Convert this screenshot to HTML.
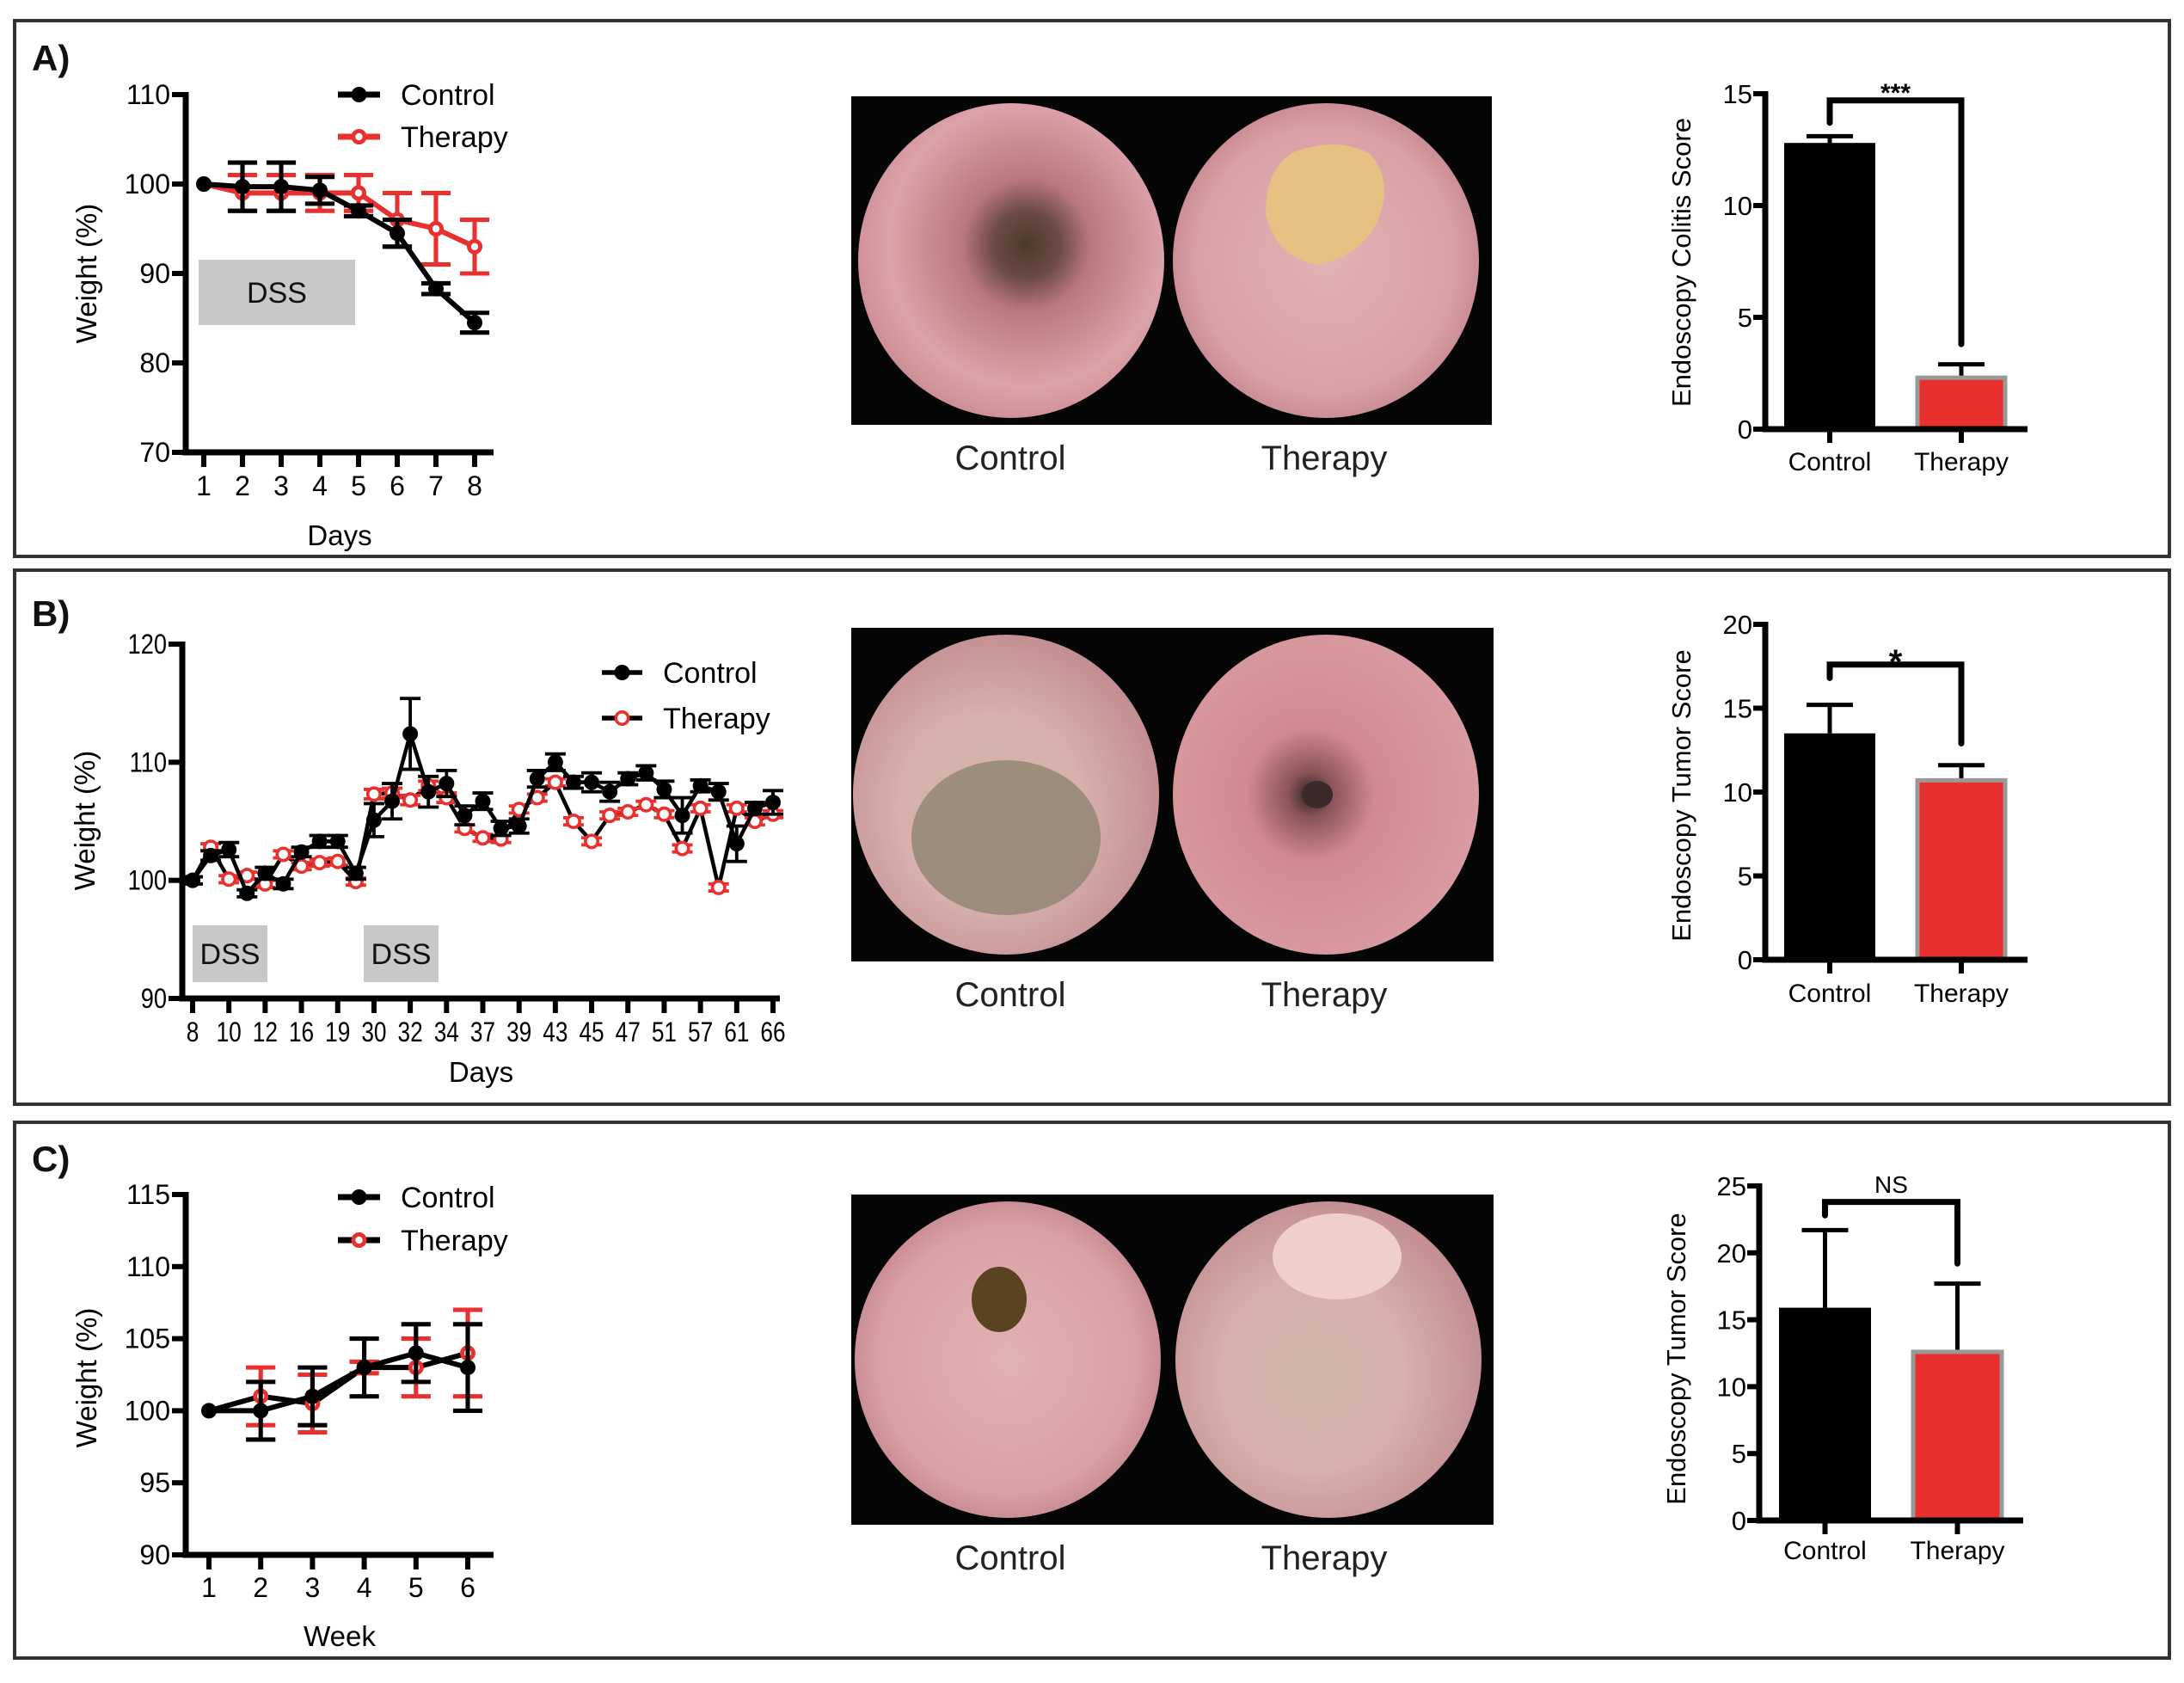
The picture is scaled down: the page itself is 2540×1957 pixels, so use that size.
<!DOCTYPE html>
<html><head><meta charset="utf-8"><title>Weight and endoscopy scores</title>
<style>
html,body{margin:0;padding:0;background:#fff;}
svg{display:block;font-family:"Liberation Sans",Arial,sans-serif;}
</style></head>
<body>
<svg id="fig" width="2540" height="1957" viewBox="0 0 2540 1957" xmlns="http://www.w3.org/2000/svg">
<defs>
<radialGradient id="pinkA" cx="0.55" cy="0.45" r="0.6">
<stop offset="0" stop-color="#4a3a2a"/><stop offset="0.18" stop-color="#6d4a45"/><stop offset="0.35" stop-color="#b9787c"/><stop offset="0.75" stop-color="#dca3a8"/><stop offset="1" stop-color="#c98a90"/></radialGradient>
<radialGradient id="pinkB" cx="0.5" cy="0.5" r="0.6">
<stop offset="0" stop-color="#e2b2b5"/><stop offset="0.7" stop-color="#d9a0a5"/><stop offset="1" stop-color="#b87a80"/></radialGradient>
<radialGradient id="pinkC" cx="0.45" cy="0.55" r="0.6">
<stop offset="0" stop-color="#cfb5a8"/><stop offset="0.5" stop-color="#d8b0ad"/><stop offset="1" stop-color="#c08a8e"/></radialGradient>
<radialGradient id="pinkD" cx="0.45" cy="0.5" r="0.6">
<stop offset="0" stop-color="#2d2020"/><stop offset="0.12" stop-color="#8a5458"/><stop offset="0.35" stop-color="#d28a90"/><stop offset="1" stop-color="#d99ea3"/></radialGradient>
</defs>
<g id="frames"></g>
<g id="panelA"></g><g id="panelB"></g><g id="panelC"></g>
</svg>
<script>
// ---------- DATA ----------
const daysA = ['1','2','3','4','5','6','7','8'];
const ctrlA = [100,99.7,99.7,99.3,97,94.5,88.3,84.5];
const ctrlAerr = [0,2.7,2.7,1.5,0.6,1.5,0.6,1.1];
const therA = [100,99,99,99,99,96,95,93];
const therAerr = [0,2,2,2,2,3,4,3];
const yTicksA = [70,80,90,100,110];

const dayLabelsB = ['8','10','12','16','19','30','32','34','37','39','43','45','47','51','57','61','66'];
const ctrlB = [100,102.1,102.6,98.9,100.6,99.7,102.4,103.3,103.3,100.6,105.1,106.7,112.4,107.5,108.2,105.5,106.7,104.4,104.6,108.6,110,108.3,108.3,107.5,108.6,109.1,107.7,105.5,108,107.5,103.1,106.1,106.6];
const ctrlBerr = [0.3,0.4,0.6,0.3,0.5,0.4,0.4,0.5,0.5,0.5,1.4,1.5,3,1.3,1.1,0.8,0.7,0.6,0.6,0.7,0.7,0.5,0.8,0.8,0.5,0.6,0.7,1.5,0.5,0.7,1.5,0.5,1];
const therB = [100,102.8,100.1,100.4,99.7,102.2,101.2,101.5,101.6,99.9,107.3,107.4,106.8,108,107,104.4,103.6,103.5,106,107,108.3,105,103.3,105.5,105.8,106.4,105.6,102.7,106.1,99.4,106.1,105,105.6];
const therBerr = [0.3,0.3,0.3,0.3,0.3,0.3,0.3,0.3,0.3,0.3,0.4,0.4,0.4,0.4,0.4,0.3,0.3,0.3,0.3,0.3,0.3,0.3,0.3,0.3,0.3,0.3,0.3,0.3,0.3,0.3,0.3,0.3,0.3];
const yTicksB = [90,100,110,120];

const weeksC = ['1','2','3','4','5','6'];
const ctrlC = [100,100,101,103,104,103];
const ctrlCerr = [0,2,2,2,2,3];
const therC = [100,101,100.5,103,103,104];
const therCerr = [0,2,2,0.4,2,3];
const yTicksC = [90,95,100,105,110,115];

const barGroups = ['Control','Therapy'];
const barA = [12.8,2.3];
const barAerr = [0.3,0.6];
const barB = [13.5,10.7];
const barBerr = [1.7,0.9];
const barC = [15.9,12.6];
const barCerr = [5.8,5.1];
const barTicksA = [0,5,10,15];
const barTicksB = [0,5,10,15,20];
const barTicksC = [0,5,10,15,20,25];

// ---------- HELPERS ----------
const NS='http://www.w3.org/2000/svg';
function mk(parent, tag, attrs, text){
  const e=document.createElementNS(NS,tag);
  for(const k in attrs) e.setAttribute(k,attrs[k]);
  if(text!==undefined) e.textContent=text;
  parent.appendChild(e); return e;
}
const RED='#e8302f';

const frames=document.getElementById('frames');
[[24,647],[663,1284],[1305,1928]].forEach((r,i)=>{
  const f=mk(frames,'rect',{x:17,y:r[0],width:2506,height:r[1]-r[0],fill:'none',stroke:'#333',"stroke-width":4});
  
  
});

function lineChart(g, cfg){
  const {x0,x1,yTop,yBot,vmin,vmax,n,px0,px1,ticks,xLabels,xLabelIdx,ctrl,ctrlErr,ther,therErr,r,lw,fs,legendY,legendX,dss,xTitle,xTitleY,yTitleX,yTitleY,labelY,cond}=cfg;
  const ys=v=>yBot-(v-vmin)/(vmax-vmin)*(yBot-yTop);
  const xs=i=>px0+(px1-px0)*i/(n-1);
  dss.forEach((d,i)=>{
    const b=mk(g,'rect',{x:d[0],y:d[1],width:d[2],height:d[3],fill:'#c8c8c8'});
    
    
    const t=mk(g,'text',{x:d[0]+d[2]/2,y:d[1]+d[3]/2+12,'text-anchor':'middle','font-size':34,fill:'#111'},'DSS');
    
    
  });
  const ax=mk(g,'path',{d:`M${x0},${yTop-3}V${yBot}H${x1}`,fill:'none',stroke:'#000','stroke-width':7});
  
  
  ticks.forEach(v=>{
    mk(g,'line',{x1:x0-16,x2:x0,y1:ys(v),y2:ys(v),stroke:'#000','stroke-width':6});
    const t=mk(g,'text',{x:x0-18,y:ys(v)+11,'text-anchor':'end','font-size':fs,fill:'#000',transform:cond?`translate(${x0-18},0) scale(0.85,1) translate(${-(x0-18)},0)`:''},String(v));
    
    
  });
  xLabels.forEach((l,k)=>{
    const xx=xs(xLabelIdx(k));
    mk(g,'line',{x1:xx,x2:xx,y1:yBot,y2:yBot+17,stroke:'#000','stroke-width':6});
    const t=mk(g,'text',{x:xx,y:labelY,'text-anchor':'middle','font-size':fs,fill:'#000',transform:cond?`translate(${xx},0) scale(0.82,1) translate(${-xx},0)`:''},l);
    
    
  });
  const xt=mk(g,'text',{x:(x0+x1)/2,y:xTitleY,'text-anchor':'middle','font-size':33,fill:'#000'},xTitle);
  
  
  const yt=mk(g,'text',{x:yTitleX,y:yTitleY,'text-anchor':'middle','font-size':33,fill:'#000',transform:`rotate(-90 ${yTitleX} ${yTitleY})`},'Weight (%)');
  
  
  function series(vals,errs,color,filled,name,lineColor){
    const pts=vals.map((v,i)=>`${xs(i)},${ys(v)}`).join(' ');
    const pl=mk(g,'polyline',{points:pts,fill:'none',stroke:lineColor,'stroke-width':lw,'stroke-linejoin':'round'});
    
    
    vals.forEach((v,i)=>{
      if(errs[i]>0){
        const cx=xs(i),a=ys(v+errs[i]),b=ys(v-errs[i]),c=cfg.cap||r*1.9;
        const eb=mk(g,'path',{d:`M${cx},${a}V${b}M${cx-c},${a}H${cx+c}M${cx-c},${b}H${cx+c}`,stroke:color,'stroke-width':lw*0.85,fill:'none'});
        
        
      }
      const m=mk(g,'circle',{cx:xs(i),cy:ys(v),r:filled?r:r-lw*0.4,fill:filled?color:'#fff',stroke:color,'stroke-width':filled?0:lw*0.8});
      
      
    });
  }
  series(ther,therErr,RED,false,'therapy',cfg.therLine);
  series(ctrl,ctrlErr,'#000',true,'control','#000');
  [['Control','#000',true,'#000',legendY[0]],['Therapy',RED,false,cfg.therLine,legendY[1]]].forEach(([lab,col,fill,lc,ly])=>{
    const lg=mk(g,'g',{});
    
    
    mk(lg,'line',{x1:legendX[0],x2:legendX[1],y1:ly,y2:ly,stroke:lc,'stroke-width':lw+1});
    mk(lg,'circle',{cx:(legendX[0]+legendX[1])/2,cy:ly,r:fill?r:r-lw*0.4,fill:fill?col:'#fff',stroke:col,'stroke-width':fill?0:lw*0.8});
    mk(lg,'text',{x:legendX[2],y:ly+12,'font-size':34,fill:'#000'},lab);
  });
}

function barChart(g,cfg){
  const {ax,yTop,yBot,xEnd,vmax,ticks,vals,errs,bars,bracket,sig,sigY,sigFs,yTitle,yTitleX,yTitleY,labY}=cfg;
  const ys=v=>yBot-v/vmax*(yBot-yTop);
  vals.forEach((v,i)=>{
    const [bx,bw]=bars[i];
    const cx=bx+bw/2;
    const eb=mk(g,'path',{d:`M${cx},${ys(v)}V${ys(v+errs[i])}M${cx-27},${ys(v+errs[i])}H${cx+27}`,stroke:'#000','stroke-width':5,fill:'none'});
    
    
    const b=mk(g,'rect',{x:bx,y:ys(v),width:bw,height:yBot-ys(v),fill:i===0?'#000':RED,stroke:i===0?'#000':'#999','stroke-width':i===0?0:5});
    
    
    mk(g,'line',{x1:cx,x2:cx,y1:yBot,y2:yBot+16,stroke:'#000','stroke-width':6});
    const t=mk(g,'text',{x:cx,y:labY,'text-anchor':'middle','font-size':30,fill:'#000'},barGroups[i]);
    
    
  });
  const a=mk(g,'path',{d:`M${ax},${yTop-3}V${yBot}H${xEnd}`,fill:'none',stroke:'#000','stroke-width':7});
  
  
  ticks.forEach(v=>{
    mk(g,'line',{x1:ax-14,x2:ax,y1:ys(v),y2:ys(v),stroke:'#000','stroke-width':6});
    const t=mk(g,'text',{x:ax-15,y:ys(v)+11,'text-anchor':'end','font-size':31,fill:'#000'},String(v));
    
    
  });
  const lx=bars[0][0]+bars[0][1]/2, rx=bars[1][0]+bars[1][1]/2;
  const br=mk(g,'path',{d:`M${lx},${ys(bracket[1])}V${ys(bracket[0])}H${rx}V${ys(bracket[2])}`,fill:'none',stroke:'#000','stroke-width':7,'stroke-linecap':'round'});
  
  
  const st=mk(g,'text',{x:(lx+rx)/2,y:sigY,'text-anchor':'middle','font-size':sigFs,'font-weight':sig==='NS'?'normal':'bold',fill:'#000'},sig);
  
  
  const yt=mk(g,'text',{x:yTitleX,y:yTitleY,'text-anchor':'middle','font-size':31,fill:'#000',transform:`rotate(-90 ${yTitleX} ${yTitleY})`},yTitle);
  
  
}

function photo(g,cfg){
  const {x,y,w,h,c1,c2,grad1,grad2,cap,kind}=cfg;
  const p=mk(g,'g',{});
  
  
  mk(p,'rect',{x,y,width:w,height:h,fill:'#050505'});
  const cy=y+h/2;
  mk(p,'ellipse',{cx:c1,cy,rx:178,ry:h/2-8,fill:`url(#${grad1})`});
  mk(p,'ellipse',{cx:c2,cy,rx:178,ry:h/2-8,fill:`url(#${grad2})`});
  if(kind==='A'){
    mk(p,'path',{d:`M${c2-40},${cy-125} q50,-20 90,0 q30,30 10,80 q-20,40 -70,50 q-50,-10 -60,-60 q0,-50 30,-70z`,fill:'#e7c083'});
  }
  if(kind==='B'){
    mk(p,'ellipse',{cx:c1,cy:cy+50,rx:110,ry:90,fill:'#8f8570',opacity:0.8});
    mk(p,'ellipse',{cx:c2-10,cy:cy,rx:18,ry:16,fill:'#3a2a2a'});
  }
  if(kind==='C'){
    mk(p,'ellipse',{cx:c1-10,cy:cy-70,rx:32,ry:38,fill:'#5a4320'});
    mk(p,'ellipse',{cx:c2+10,cy:cy-120,rx:75,ry:50,fill:'#f0cfc8'});
  }
  cap.forEach(([t,xx])=>{
    const tt=mk(g,'text',{x:xx,y:y+h+52,'text-anchor':'middle','font-size':40,fill:'#222'},t);
    
    
  });
}

function panelLabel(g,t,x,y){
  const e=mk(g,'text',{x,y,'font-size':42,'font-weight':'bold',fill:'#111'},t);
  
  
}

const gA=document.getElementById('panelA');
panelLabel(gA,'A)',37,82);
lineChart(gA,{x0:216,x1:574,yTop:110,yBot:526,vmin:70,vmax:110,n:8,px0:237,px1:552,ticks:yTicksA,
  xLabels:daysA,xLabelIdx:k=>k,ctrl:ctrlA,ctrlErr:ctrlAerr,ther:therA,therErr:therAerr,r:9,lw:6,fs:32,
  legendY:[110,159],legendX:[393,442,466],dss:[[231,302,182,76]],xTitle:'Days',xTitleY:634,yTitleX:112,yTitleY:318,labelY:576,therLine:RED,cond:false});
photo(gA,{x:990,y:112,w:745,h:382,c1:1176,c2:1542,grad1:'pinkA',grad2:'pinkB',cap:[['Control',1175],['Therapy',1540]],kind:'A'});
barChart(gA,{ax:2053,yTop:109,yBot:499,xEnd:2358,vmax:15,ticks:barTicksA,vals:barA,errs:barAerr,bars:[[2075,106],[2230,102]],
  bracket:[14.7,13.7,3.8],sig:'***',sigY:118,sigFs:30,yTitle:'Endoscopy Colitis Score',yTitleX:1966,yTitleY:305,labY:547});

const gB=document.getElementById('panelB');
panelLabel(gB,'B)',37,728);
lineChart(gB,{x0:212,x1:907,yTop:749,yBot:1161,vmin:90,vmax:120,n:33,px0:224,px1:899,ticks:yTicksB,
  xLabels:dayLabelsB,xLabelIdx:k=>k*2,ctrl:ctrlB,ctrlErr:ctrlBerr,ther:therB,therErr:therBerr,r:9,lw:4.5,fs:32,cap:12,
  legendY:[782,835],legendX:[700,747,771],dss:[[224,1076,87,66],[423,1076,87,66]],xTitle:'Days',xTitleY:1258,yTitleX:110,yTitleY:954,labelY:1211,therLine:'#000',cond:true});
photo(gB,{x:990,y:730,w:747,h:388,c1:1170,c2:1542,grad1:'pinkC',grad2:'pinkD',cap:[['Control',1175],['Therapy',1540]],kind:'B'});
barChart(gB,{ax:2053,yTop:726,yBot:1116,xEnd:2358,vmax:20,ticks:barTicksB,vals:barB,errs:barBerr,bars:[[2075,106],[2230,102]],
  bracket:[17.6,16.8,12.9],sig:'*',sigY:783,sigFs:40,yTitle:'Endoscopy Tumor Score',yTitleX:1966,yTitleY:925,labY:1165});

const gC=document.getElementById('panelC');
panelLabel(gC,'C)',37,1362);
lineChart(gC,{x0:216,x1:574,yTop:1389,yBot:1808,vmin:90,vmax:115,n:6,px0:243,px1:544,ticks:yTicksC,
  xLabels:weeksC,xLabelIdx:k=>k,ctrl:ctrlC,ctrlErr:ctrlCerr,ther:therC,therErr:therCerr,r:9,lw:6,fs:32,
  legendY:[1392,1442],legendX:[393,442,466],dss:[],xTitle:'Week',xTitleY:1914,yTitleX:112,yTitleY:1602,labelY:1857,therLine:'#000',cond:false});
photo(gC,{x:990,y:1389,w:747,h:384,c1:1172,c2:1545,grad1:'pinkB',grad2:'pinkC',cap:[['Control',1175],['Therapy',1540]],kind:'C'});
barChart(gC,{ax:2046,yTop:1379,yBot:1768,xEnd:2353,vmax:25,ticks:barTicksC,vals:barC,errs:barCerr,bars:[[2069,107],[2225,103]],
  bracket:[23.8,22.8,19.2],sig:'NS',sigY:1387,sigFs:28,yTitle:'Endoscopy Tumor Score',yTitleX:1960,yTitleY:1580,labY:1813});
</script>
</body></html>
